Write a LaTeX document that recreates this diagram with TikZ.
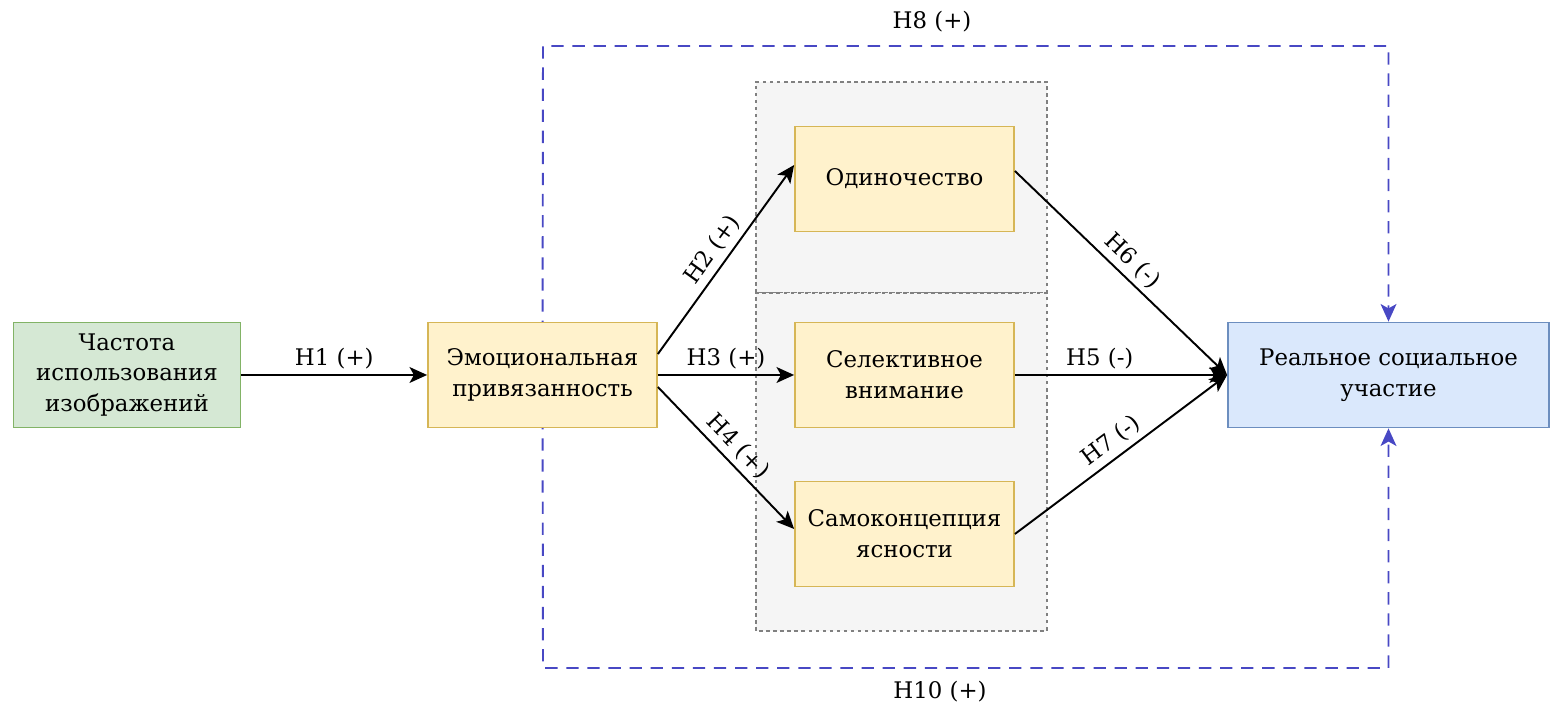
\documentclass[tikz,border=0pt]{standalone}
\usepackage{fontspec}
\setmainfont{DejaVu Serif}
\usetikzlibrary{arrows.meta,backgrounds}
\definecolor{grfill}{HTML}{D5E8D4}
\definecolor{grline}{HTML}{82B366}
\definecolor{yefill}{HTML}{FFF2CC}
\definecolor{yeline}{HTML}{D6B656}
\definecolor{blfill}{HTML}{DAE8FC}
\definecolor{blline}{HTML}{6C8EBF}
\definecolor{grpfill}{HTML}{F5F5F5}
\definecolor{hypline}{RGB}{72,72,196}

\begin{document}
\begin{tikzpicture}[
  font=\fontsize{13}{17.5}\selectfont,
  box/.style={draw, line width=1pt, align=center, minimum height=2.1cm},
  ybox/.style={box, fill=yefill, draw=yeline, minimum width=4.38cm},
  arr/.style={-{Stealth[length=10pt,width=9pt,inset=2.5pt]}, line width=1.1pt},
  hyp/.style={draw=hypline, line width=1.1pt, dash pattern=on 7pt off 5pt,
    -{Stealth[length=10pt,width=9pt,inset=2.5pt]}},
  grp/.style={draw=gray, fill=grpfill, line width=0.6pt, dash pattern=on 2pt off 2pt},
  lbl/.style={above, sloped, inner sep=3pt}
]
  \newcommand{\mx}{18.09}
  \useasboundingbox (0,0) rectangle (31.2,14.32);
  % boxes
  \node[box, fill=grfill, draw=grline, minimum width=4.54cm] (freq) at (2.54,6.82)
    {Частота\\использования\\изображений};
  \node[ybox, minimum width=4.58cm] (emo) at (10.85,6.82) {Эмоциональная\\привязанность};
  \node[ybox] (odin) at (\mx,10.74) {Одиночество};
  \node[ybox] (selec) at (\mx,6.82) {Селективное\\внимание};
  \node[ybox] (samok) at (\mx,3.64) {Самоконцепция\\ясности};
  \node[box, fill=blfill, draw=blline, minimum width=6.42cm] (real) at (27.77,6.82)
    {Реальное социальное\\участие};
  % paths
  \draw[arr] (freq) -- node[lbl]{H1 (+)} (emo);
  \draw[arr] ([yshift=4.2mm]emo.east) -- node[lbl]{H2 (+)} ([yshift=2.8mm]odin.west);
  \draw[arr] (emo.east) -- node[lbl]{H3 (+)} (selec.west);
  \draw[arr] ([yshift=-2.4mm]emo.east) -- node[lbl]{H4 (+)} ([yshift=1mm]samok.west);
  \draw[arr] ([yshift=1.6mm]odin.east) -- node[lbl]{H6 (-)} (real.west);
  \draw[arr] (selec.east) -- node[lbl, pos=0.4]{H5 (-)} (real.west);
  \draw[arr] (samok.east) -- node[lbl]{H7 (-)} (real.west);
  % direct effects
  \coordinate (tl) at (10.86,13.4);
  \coordinate (bl) at (10.86,0.96);
  \node (h8) at (18.64,13.88) {H8 (+)};
  \node (h10) at (18.8,0.48) {H10 (+)};
  \begin{scope}[on background layer]
    \draw[grp] (15.12,8.46) rectangle (20.94,12.68);
    \draw[grp] (15.12,1.7) rectangle (20.94,8.46);
    \draw[hyp] (emo.center) -- (tl) -| (real.north);
    \draw[hyp] (emo.center) -- (bl) -| (real.south);
  \end{scope}
\end{tikzpicture}
\end{document}
